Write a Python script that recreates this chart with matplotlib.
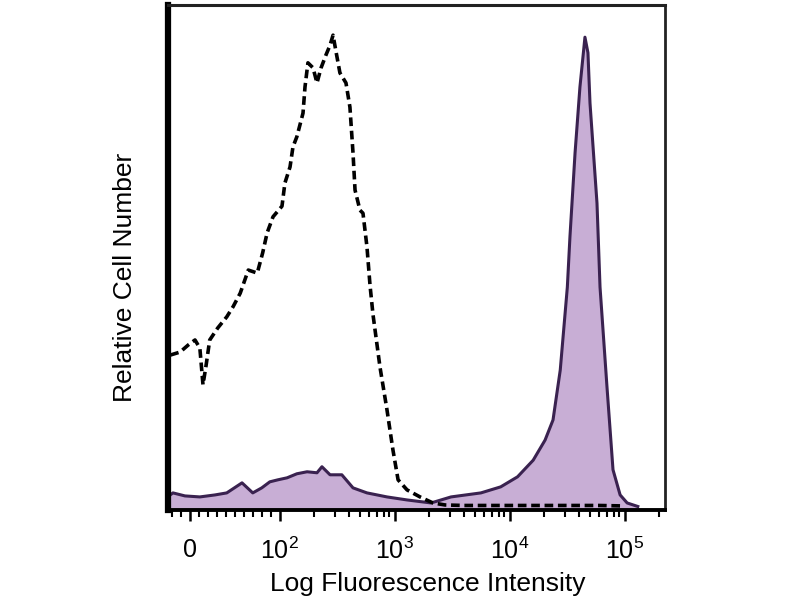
import matplotlib
matplotlib.use("Agg")
import matplotlib.pyplot as plt
import numpy as np

# Control (isotype) histogram - dashed
ctrl_x = [-22, -11, -2, 5.6, 11, 14.5, 18, 22, 31, 41, 48, 56, 65, 75, 81, 86, 92.6,
          104.7, 111, 123, 130.5, 141, 159.5, 166, 176, 195, 211, 229, 253, 274, 291,
          309, 334, 377, 408, 434, 452, 499, 530, 574, 610, 648, 745, 857, 966, 1070,
          1280, 1660, 2150, 2740, 4000, 8000, 15000, 30000, 60000, 100000]
ctrl_y = [30.4, 31.0, 32.4, 33.4, 31.8, 24.5, 28.4, 33.4, 35.8, 38.0, 40.0, 42.7, 47.3,
          46.7, 50.7, 54.7, 57.9, 60.0, 64.6, 67.8, 71.8, 73.8, 78.5, 83.7, 88.5, 87.5,
          84.5, 87.5, 90.1, 92.0, 94.0, 90.7, 86.5, 84.5, 79.7, 70.6, 63.2, 59.2, 58.6,
          51.9, 44.3, 38.4, 28.0, 19.5, 11.5, 5.6, 3.6, 2.2, 1.0, 0.6, 0.5, 0.5, 0.5,
          0.5, 0.5, 0.4]

# Stained sample histogram - filled purple
stain_x = [-24.5, -22, -19, -5.6, 11, 28, 41, 58, 70, 80, 89, 98, 116, 141, 173, 211,
           233, 274, 347, 434, 574, 857, 1280, 2070, 3090, 5620, 8350, 11700, 16000,
           20300, 23800, 27500, 31700, 33400, 37000, 40800, 45100, 47900, 49900, 57400,
           61000, 70100, 79100, 91200, 105000, 130000]
stain_y = [2.6, 2.6, 3.0, 2.4, 2.2, 2.6, 3.0, 5.0, 3.0, 4.0, 5.2, 5.6, 6.0, 6.8, 7.2,
           7.0, 8.2, 6.6, 6.6, 4.0, 3.0, 2.2, 1.6, 1.0, 2.2, 3.0, 4.2, 6.2, 9.5, 13.5,
           17.5, 27.4, 43.9, 53.9, 70.6, 83.7, 93.6, 90.5, 80.5, 60.6, 43.9, 24.1, 7.6,
           2.6, 1.0, 0.3]

major_ticks = [0, 1e2, 1e3, 1e4, 1e5]
major_labels = ["0", r"$10^2$", r"$10^3$", r"$10^4$", r"$10^5$"]

plt.rcParams['font.family'] = ['Liberation Sans', 'DejaVu Sans']
plt.rcParams['mathtext.fontset'] = 'custom'
plt.rcParams['mathtext.rm'] = 'Liberation Sans'

fig = plt.figure(figsize=(8, 6), dpi=100)
ax = fig.add_axes([0.21, 0.15, 0.62125, 0.8417])

ax.set_xscale('symlog', linthresh=100, linscale=0.702, base=10)

fill_col = '#c8aed5'
line_col = '#3a2250'
ax.fill_between(stain_x, stain_y, -1, color=fill_col, linewidth=0, zorder=1)
ax.plot(stain_x, stain_y, color=line_col, lw=2.2, zorder=2)
ax.plot(ctrl_x, ctrl_y, color='black', lw=2.6, dashes=(2.4, 1.3), zorder=3)

ax.set_xlim(-24.5, 2.24e5)
ax.set_ylim(-0.4, 100)

ax.set_xticks(major_ticks)
ax.set_xticklabels(major_labels, fontsize=18)
minor = [-20, -10] + list(range(10, 100, 10)) + \
        [m * 10 ** k for k in range(2, 5) for m in range(2, 10)] + [2e5]
ax.set_xticks(minor, minor=True)
ax.tick_params(axis='x', which='major', direction='out', length=8, width=1.8,
               pad=12, colors='black')
ax.tick_params(axis='x', which='minor', direction='out', length=5, width=1.5)
ax.set_yticks([])

ax.spines['left'].set_linewidth(4.5)
ax.spines['bottom'].set_linewidth(2.8)
ax.spines['top'].set_linewidth(2.2)
ax.spines['right'].set_linewidth(2.0)
ax.spines['top'].set_color('#222222')
ax.spines['right'].set_color('#222222')

ax.set_xlabel("Log Fluorescence Intensity", fontsize=19)
ax.set_ylabel("Relative Cell Number", fontsize=19)
ax.xaxis.set_label_coords(0.523, -0.122)
ax.yaxis.set_label_coords(-0.062, 0.461)

fig.savefig("out.png", dpi=100)
